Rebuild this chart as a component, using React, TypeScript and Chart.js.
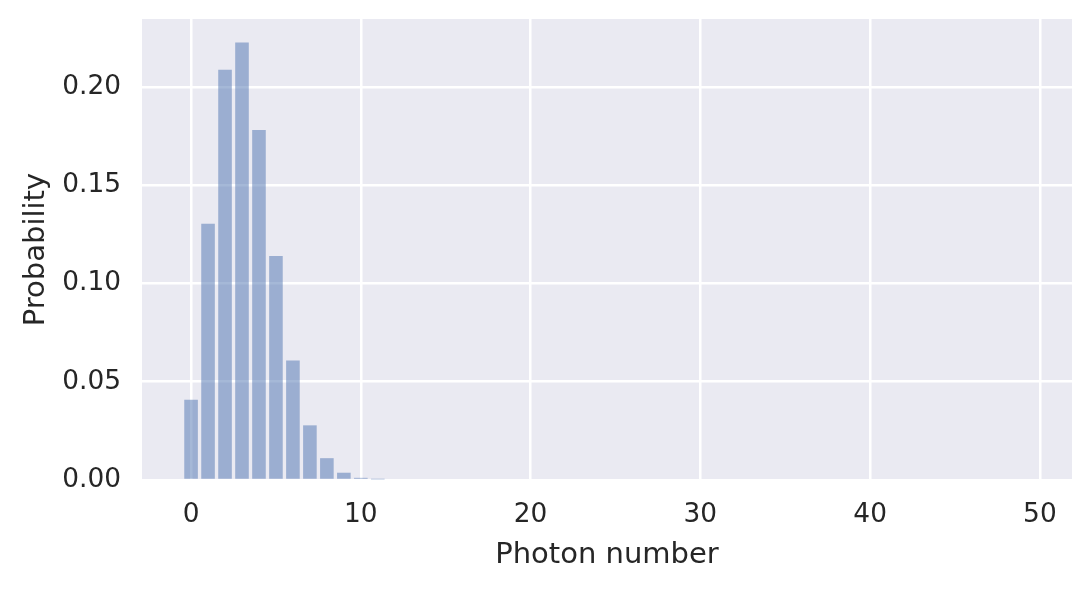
import { useEffect, useRef } from "react";
import Chart from "chart.js/auto";

// photon number distribution
const photonNumbers = [
  0, 1, 2, 3, 4, 5, 6, 7, 8, 9, 10, 11, 12, 13, 14, 15, 16, 17, 18, 19, 20, 21, 22, 23, 24,
  25, 26, 27, 28, 29, 30, 31, 32, 33, 34, 35, 36, 37, 38, 39, 40, 41, 42, 43, 44, 45, 46, 47, 48, 49,
];
const probabilities = [
  0.0408, 0.1304, 0.2087, 0.2226, 0.1781, 0.114, 0.0608, 0.0278, 0.0111, 0.0037, 0.0011, 0.0003,
  0, 0, 0, 0, 0, 0, 0, 0, 0, 0, 0, 0, 0, 0, 0, 0, 0, 0, 0, 0, 0, 0, 0, 0, 0, 0, 0, 0, 0, 0,
  0, 0, 0, 0, 0, 0, 0, 0,
];
const xTicks = [0, 10, 20, 30, 40, 50];
const yTicks = [0, 0.05, 0.1, 0.15, 0.2];

const TEXT = "#262626";

const plotBackground = {
  id: "plotBackground",
  beforeDraw(chart: any) {
    const { ctx, chartArea } = chart;
    ctx.save();
    ctx.fillStyle = "#eaeaf2";
    ctx.fillRect(chartArea.left, chartArea.top, chartArea.right - chartArea.left, chartArea.bottom - chartArea.top);
    ctx.restore();
  },
};

export default function App() {
  const canvasRef = useRef<HTMLCanvasElement>(null);
  const chartRef = useRef<Chart | null>(null);

  useEffect(() => {
    if (!canvasRef.current) return;
    if (chartRef.current) chartRef.current.destroy();

    const ctx = canvasRef.current.getContext("2d");
    if (!ctx) return;

    const points = photonNumbers.map((n, i) => ({ x: n, y: probabilities[i] }));

    chartRef.current = new Chart(ctx, {
      type: "bar",
      data: {
        datasets: [
          {
            data: points as any,
            backgroundColor: "rgba(76, 114, 176, 0.5)",
            borderWidth: 0,
            barPercentage: 0.8,
            categoryPercentage: 1,
          },
        ],
      },
      options: {
        animation: false,
        responsive: true,
        maintainAspectRatio: false,
        layout: { padding: { top: 19, right: 19, left: 0, bottom: 0 } },
        plugins: {
          legend: { display: false },
          tooltip: { enabled: false },
        },
        scales: {
          x: {
            type: "linear",
            offset: false,
            min: -2.89,
            max: 51.89,
            afterFit: (scale: any) => {
              scale.height = 109;
              scale.paddingLeft = 0;
              scale.paddingRight = 0;
            },
            afterBuildTicks: (scale: any) => {
              scale.ticks = xTicks.map((v) => ({ value: v }));
            },
            ticks: {
              color: TEXT,
              padding: 19,
              font: { family: "DejaVu Sans", size: 26.4 },
              callback: (v: any) => String(v),
            },
            grid: { color: "#ffffff", lineWidth: 2.5, drawTicks: false, offset: false },
            border: { display: false },
            title: {
              display: true,
              text: "Photon number",
              color: TEXT,
              font: { family: "DejaVu Sans", size: 29 },
              padding: { top: 0, bottom: 16 },
            },
          },
          y: {
            min: 0,
            max: 0.2345,
            afterFit: (scale: any) => {
              scale.width = 142;
              scale.paddingTop = 0;
              scale.paddingBottom = 0;
            },
            afterBuildTicks: (scale: any) => {
              scale.ticks = yTicks.map((v) => ({ value: v }));
            },
            ticks: {
              color: TEXT,
              padding: 21,
              font: { family: "DejaVu Sans", size: 26.4 },
              callback: (v: any) => Number(v).toFixed(2),
            },
            grid: { color: "#ffffff", lineWidth: 2.5, drawTicks: false },
            border: { display: false },
            title: {
              display: true,
              text: "Probability",
              color: TEXT,
              font: { family: "DejaVu Sans", size: 29 },
              padding: { top: 19, bottom: 0 },
            },
          },
        },
      },
      plugins: [plotBackground],
    });

    return () => {
      if (chartRef.current) {
        chartRef.current.destroy();
        chartRef.current = null;
      }
    };
  }, []);

  return (
    <div style={{ position: "fixed", left: 0, top: 0, width: 1091, height: 589, background: "#ffffff" }}>
      <canvas ref={canvasRef} />
    </div>
  );
}
